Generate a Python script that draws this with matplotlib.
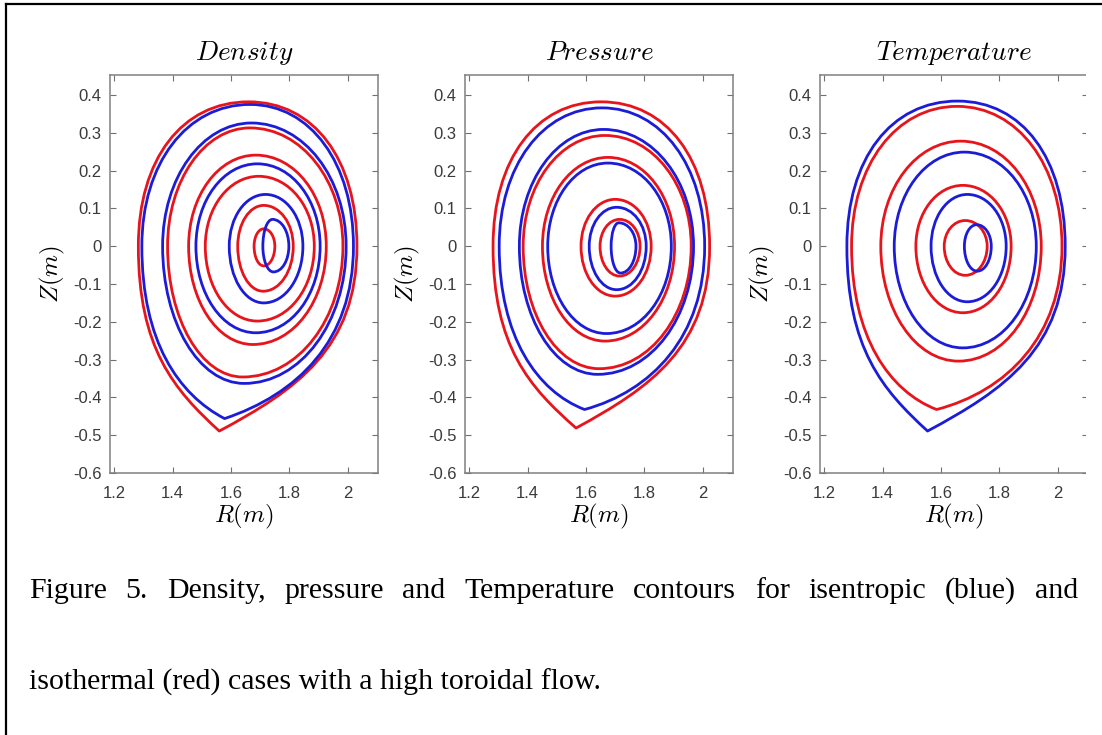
import numpy as np
import matplotlib
matplotlib.use("Agg")
import matplotlib.pyplot as plt
from matplotlib.path import Path
from matplotlib.patches import PathPatch, Rectangle
from matplotlib.lines import Line2D

plt.rcParams["mathtext.fontset"] = "cm"
plt.rcParams["axes.unicode_minus"] = False
plt.rcParams["font.family"] = ["Liberation Sans", "DejaVu Sans"]

W, H = 1102, 735

titles = ["$Density$", "$Pressure$", "$Temperature$"]
r_ticks = [1.2, 1.4, 1.6, 1.8, 2.0]
r_labels = ["1.2", "1.4", "1.6", "1.8", "2"]
z_ticks = [-0.6, -0.5, -0.4, -0.3, -0.2, -0.1, 0.0, 0.1, 0.2, 0.3, 0.4]
z_labels = ["-0.6", "-0.5", "-0.4", "-0.3", "-0.2", "-0.1", "0", "0.1", "0.2", "0.3", "0.4"]

# one row per flux surface:
# (R inner, R outer, Z top, Z bottom, R at top, R at bottom, tip sharpness)
density_red = [
    (1.283, 2.031, 0.382, -0.489, 1.660, 1.560, 0.40),
    (1.383, 1.983, 0.313, -0.346, 1.665, 1.640, 0.0),
    (1.455, 1.926, 0.241, -0.260, 1.685, 1.675, 0.0),
    (1.512, 1.885, 0.185, -0.198, 1.695, 1.690, 0.0),
    (1.623, 1.813, 0.108, -0.119, 1.712, 1.710, 0.0),
    (1.679, 1.750, 0.046, -0.052, 1.712, 1.712, 0.0),
]
density_blue = [
    (1.295, 2.019, 0.375, -0.456, 1.665, 1.578, 0.25),
    (1.366, 1.994, 0.326, -0.363, 1.670, 1.645, 0.0),
    (1.480, 1.905, 0.218, -0.229, 1.690, 1.685, 0.0),
    (1.594, 1.846, 0.137, -0.150, 1.718, 1.712, 0.0),
    (1.709, 1.798, 0.071, -0.068, 1.742, 1.745, 0.0),
]
pressure_red = [
    (1.282, 2.023, 0.382, -0.481, 1.652, 1.566, 0.40),
    (1.385, 1.960, 0.293, -0.324, 1.665, 1.645, 0.0),
    (1.451, 1.903, 0.235, -0.251, 1.675, 1.665, 0.0),
    (1.583, 1.823, 0.124, -0.132, 1.700, 1.700, 0.0),
    (1.648, 1.785, 0.071, -0.079, 1.715, 1.715, 0.0),
]
pressure_blue = [
    (1.303, 2.006, 0.366, -0.432, 1.655, 1.595, 0.20),
    (1.372, 1.968, 0.309, -0.339, 1.660, 1.640, 0.0),
    (1.469, 1.892, 0.220, -0.231, 1.675, 1.670, 0.0),
    (1.611, 1.806, 0.103, -0.115, 1.705, 1.705, 0.0),
    (1.686, 1.771, 0.062, -0.071, 1.712, 1.718, 0.0),
]
temperature_red = [
    (1.294, 2.014, 0.370, -0.432, 1.655, 1.585, 0.20),
    (1.394, 1.943, 0.278, -0.304, 1.668, 1.660, 0.0),
    (1.514, 1.840, 0.161, -0.176, 1.675, 1.675, 0.0),
    (1.611, 1.758, 0.068, -0.077, 1.683, 1.683, 0.0),
]
temperature_blue = [
    (1.278, 2.025, 0.384, -0.489, 1.657, 1.554, 0.40),
    (1.440, 1.926, 0.249, -0.269, 1.680, 1.675, 0.0),
    (1.566, 1.823, 0.137, -0.147, 1.690, 1.690, 0.0),
    (1.680, 1.772, 0.057, -0.066, 1.722, 1.724, 0.0),
]

panels = [
    (density_red, density_blue),
    (pressure_red, pressure_blue),
    (temperature_red, temperature_blue),
]

caption1 = "Figure 5. Density, pressure and Temperature contours for isentropic (blue) and"
caption2 = "isothermal (red) cases with a high toroidal flow."

RED = "#e8141c"
BLUE = "#1c1cd8"


def flux_surface(rin, rout, ztop, zbot, rtop, rbot, tip):
    # closed curve through the four extreme points, bezier quarters
    ku = 0.555 + 0.12 * tip   # outer surfaces are a bit fuller on top
    kl = 0.555
    verts = [
        (rin, 0.0),
        (rin, ku * ztop), (rtop - ku * (rtop - rin), ztop), (rtop, ztop),
        (rtop + ku * (rout - rtop), ztop), (rout, ku * ztop), (rout, 0.0),
        (rout, kl * zbot), (rbot + kl * (rout - rbot), zbot - tip * kl * zbot), (rbot, zbot),
        (rbot - kl * (rbot - rin), zbot - tip * kl * zbot), (rin, kl * zbot), (rin, 0.0),
    ]
    codes = [Path.MOVETO] + [Path.CURVE4] * 12
    return Path(verts, codes)


fig = plt.figure(figsize=(W / 100, H / 100), dpi=100)

ax_left = [110, 465, 820]
ax_w, ax_top, ax_bot = 268, 75, 473

for i, (reds, blues) in enumerate(panels):
    ax = fig.add_axes([ax_left[i] / W, 1 - ax_bot / H, ax_w / W, (ax_bot - ax_top) / H])
    for rows, col in ((reds, RED), (blues, BLUE)):
        for row in rows:
            ax.add_patch(PathPatch(flux_surface(*row), fill=False, edgecolor=col,
                                   lw=2.0, joinstyle="round"))
    ax.set_xlim(1.186, 2.103)
    ax.set_ylim(-0.6, 0.453)
    ax.set_xticks(r_ticks)
    ax.set_xticklabels(r_labels)
    ax.set_yticks(z_ticks)
    ax.set_yticklabels(z_labels)
    ax.tick_params(direction="in", length=4, width=0.8, top=True, right=True,
                   color="#707070", labelcolor="#3a3a3a", labelsize=12)
    ax.tick_params(axis="x", pad=9)
    ax.tick_params(axis="y", pad=6)
    for sp in ax.spines.values():
        sp.set_color("#808080")
        sp.set_linewidth(1.1)
    ax.text(0.5, 1 + 22 / 398, titles[i], transform=ax.transAxes, ha="center",
            va="center", fontsize=19.5)
    ax.set_xlabel("$R(m)$", fontsize=18, va="center")
    ax.xaxis.set_label_coords(0.5, -43 / 398)
    ax.set_ylabel("$Z(m)$", fontsize=18, va="center", ha="center")
    ax.yaxis.set_label_coords(-58 / 268, 0.5)

# the picture is cut off just left of the last right spine
fig.patches.append(Rectangle((1086 / W, 0), 1 - 1086 / W, 1 - 6 / H,
                             transform=fig.transFigure, facecolor="white",
                             edgecolor="none", zorder=5))
# frame of the figure box (top and left edge)
fig.lines.append(Line2D([6 / W, 6 / W], [0, 1 - 4 / H], transform=fig.transFigure,
                        color="black", lw=1.6, zorder=6))
fig.lines.append(Line2D([6 / W, 1], [1 - 4 / H, 1 - 4 / H], transform=fig.transFigure,
                        color="black", lw=1.6, zorder=6))

# caption, first line justified
renderer = fig.canvas.get_renderer()
cap_kw = dict(fontsize=21.5, family=["Liberation Serif", "DejaVu Serif"], va="baseline",
              ha="left", color="black")
words = caption1.split()
arts = [fig.text(0, 1 - 598 / H, w, **cap_kw) for w in words]
widths = [t.get_window_extent(renderer).width for t in arts]
x0, x1 = 29, 1078
gap = (x1 - x0 - sum(widths)) / (len(words) - 1)
x = x0
for t, w in zip(arts, widths):
    t.set_x(x / W)
    x += w + gap
fig.text(x0 / W, 1 - 690 / H, caption2, **cap_kw)

fig.savefig("out.png", dpi=100)
